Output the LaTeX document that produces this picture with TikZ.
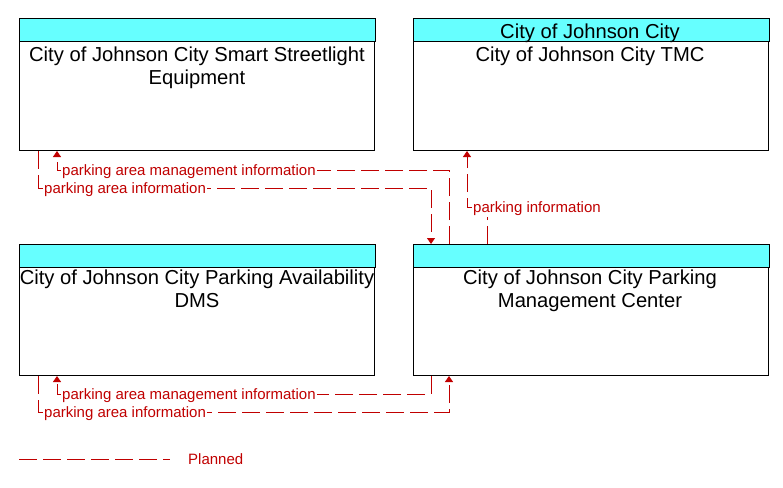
\documentclass[tikz,border=0pt]{standalone}
\usepackage{fontspec}
\setmainfont{Liberation Sans}
\usetikzlibrary{arrows.meta}
\definecolor{flowred}{RGB}{192,0,0}
\definecolor{hdrcyan}{RGB}{102,255,255}
\begin{document}
\begin{tikzpicture}[x=1pt,y=-1pt,
  box/.style={draw=black, fill=white, line width=1pt, minimum width=355pt, minimum height=131pt, anchor=north west, inner sep=0pt},
  hdr/.style={fill=hdrcyan, draw=black, line width=1pt},
  title/.style={font=\fontsize{20.2}{23}\selectfont, align=center, anchor=base, inner sep=0pt},
  lbl/.style={font=\fontsize{15}{16}\selectfont, text=flowred, fill=white, inner sep=1pt, anchor=base west},
  flow/.style={draw=flowred, line width=1pt, dash pattern=on 18pt off 6pt},
  tip/.style={-{Triangle[length=6pt,width=8pt]}}
]
\useasboundingbox (0,0) rectangle (783,487);
% boxes
\node[box] (A) at (19,19) {};
\node[box] (B) at (413,19) {};
\node[box] (C) at (19,244) {};
\node[box] (D) at (413,244) {};
\path[hdr] (A.north west) rectangle ([yshift=-23pt]A.north east);
\path[hdr] (B.north west) rectangle ([yshift=-23pt]B.north east);
\path[hdr] (C.north west) rectangle ([yshift=-23pt]C.north east);
\path[hdr] (D.north west) rectangle ([yshift=-23pt]D.north east);
% titles
\node[title] (Bh) at (590,39) {City of Johnson City};
\node[title] (At1) at (197,61) {City of Johnson City Smart Streetlight};
\node[title] (At2) at (197,84) {Equipment};
\node[title] (Bt) at (590,61) {City of Johnson City TMC};
\node[title] (Ct1) at (197,284) {City of Johnson City Parking Availability};
\node[title] (Ct2) at (197,307) {DMS};
\node[title] (Dt1) at (590,284) {City of Johnson City Parking};
\node[title] (Dt2) at (590,307) {Management Center};
% connectors upper
\draw[flow,tip] (449,0 |- D.north) -- (449,170) -- (57,170) -- (57,0 |- A.south);
\node[lbl] (l1) at (61,175.5) {parking area management information};
\draw[flow,tip] (38,0 |- A.south) -- (38,188) -- (431,188) -- (431,0 |- D.north);
\node[lbl] (l2) at (43,193.5) {parking area information};
\draw[flow,tip] (487,0 |- D.north) -- (487,207) -- (467,207) -- (467,0 |- B.south);
\node[lbl] (l3) at (472,212.5) {parking information};
% connectors lower
\draw[flow,tip] (431,0 |- D.south) -- (431,394) -- (57,394) -- (57,0 |- C.south);
\node[lbl] (l4) at (61,399.5) {parking area management information};
\draw[flow,tip] (38,0 |- C.south) -- (38,412) -- (449,412) -- (449,0 |- D.south);
\node[lbl] (l5) at (43,417.5) {parking area information};
% legend
\coordinate (lg1) at (19,459);
\coordinate (lg2) at (170,459);
\draw[flow] (lg1) -- (lg2);
\node[lbl, fill=none] (lgt) at (187,464) {Planned};
\end{tikzpicture}
\end{document}
